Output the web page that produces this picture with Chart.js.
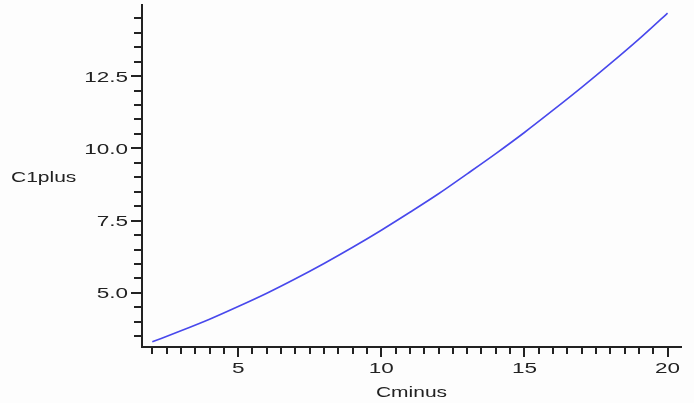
<!DOCTYPE html>
<html>
<head>
<meta charset="utf-8">
<title>C1plus vs Cminus</title>
<script src="https://cdn.jsdelivr.net/npm/chart.js@4/dist/chart.umd.min.js"></script>
<style>
  html, body { margin: 0; padding: 0; background: #fdfdfd; }
  #wrap { width: 694px; height: 403px; }
</style>
</head>
<body>
<div id="wrap"><canvas id="c" width="694" height="403"></canvas></div>
<script>
// Curve samples
const cminus = [2, 3, 4, 5, 6, 7, 8, 9, 10, 11, 12, 13, 14, 15, 16, 17, 18, 19, 20];
const c1plus = [3.31, 3.69, 4.09, 4.53, 4.99, 5.49, 6.02, 6.58, 7.17, 7.79, 8.43, 9.12, 9.82, 10.55, 11.32, 12.11, 12.93, 13.78, 14.68];

// Axis ticks: labelled majors, unlabelled minors every half unit
const xMajorValues = [5, 10, 15, 20];
const xMajorLabels = ['5', '10', '15', '20'];
const yMajorValues = [5, 7.5, 10, 12.5];
const yMajorLabels = ['5.0', '7.5', '10.0', '12.5'];
const minorStep = 0.5;
const xFirstTick = 2, xLastTick = 20;
const yFirstTick = 3.5, yLastTick = 14.5;

const xTitle = 'Cminus';
const yTitle = 'C1plus';

const INK = '#222';
const FONT = '"Liberation Sans", Arial, sans-serif';
const STRETCH = 1.5;   // wide lettering

function stepTicks(first, last) {
  return function (scale) {
    const n = Math.round((last - first) / minorStep);
    const ticks = [];
    for (let i = 0; i <= n; i++) ticks.push({ value: first + i * minorStep });
    scale.ticks = ticks;
  };
}

function majorIndex(values, v) {
  return values.findIndex(m => Math.abs(m - v) < 1e-6);
}

// Draws text stretched horizontally around its anchor point
function wideText(ctx, text, x, y, align) {
  ctx.save();
  ctx.translate(x, y);
  ctx.scale(STRETCH, 1);
  ctx.textAlign = align;
  ctx.textBaseline = 'alphabetic';
  ctx.fillText(text, 0, 0);
  ctx.restore();
}

// Tick marks (long for majors, short for minors), tick labels and axis titles
const axisDecor = {
  id: 'axisDecor',
  afterDraw(chart) {
    const ctx = chart.ctx;
    const xs = chart.scales.x, ys = chart.scales.y;
    const area = chart.chartArea;
    ctx.save();
    ctx.strokeStyle = INK;
    ctx.fillStyle = INK;
    ctx.lineWidth = 2;
    ctx.beginPath();
    xs.ticks.forEach(t => {
      const px = Math.round(xs.getPixelForValue(t.value));
      const len = majorIndex(xMajorValues, t.value) >= 0 ? 10 : 7;
      ctx.moveTo(px, area.bottom);
      ctx.lineTo(px, area.bottom + len);
    });
    ys.ticks.forEach(t => {
      const py = Math.round(ys.getPixelForValue(t.value));
      const len = majorIndex(yMajorValues, t.value) >= 0 ? 11 : 8;
      ctx.moveTo(area.left, py);
      ctx.lineTo(area.left - len, py);
    });
    ctx.stroke();

    ctx.font = '15px ' + FONT;
    xMajorValues.forEach((v, i) => {
      wideText(ctx, xMajorLabels[i], xs.getPixelForValue(v), area.bottom + 26, 'center');
    });
    yMajorValues.forEach((v, i) => {
      wideText(ctx, yMajorLabels[i], area.left - 14, ys.getPixelForValue(v) + 5.5, 'right');
    });

    ctx.font = '14px ' + FONT;
    wideText(ctx, xTitle, (area.left + area.right) / 2, 397, 'center');
    wideText(ctx, yTitle, 11, (area.top + area.bottom) / 2 + 6, 'left');
    ctx.restore();
  }
};

new Chart(document.getElementById('c'), {
  type: 'line',
  data: {
    datasets: [{
      data: cminus.map((x, i) => ({ x: x, y: c1plus[i] })),
      borderColor: 'rgb(72, 72, 236)',
      borderWidth: 1.6,
      pointRadius: 0,
      fill: false,
      cubicInterpolationMode: 'monotone'
    }]
  },
  options: {
    responsive: false,
    animation: false,
    events: [],
    layout: { padding: { top: 5, right: 13, left: 0, bottom: 0 } },
    plugins: {
      legend: { display: false },
      tooltip: { enabled: false },
      title: { display: false }
    },
    scales: {
      x: {
        type: 'linear',
        min: 1.64,
        max: 20.47,
        afterBuildTicks: stepTicks(xFirstTick, xLastTick),
        afterFit(scale) { scale.height = 56; scale.paddingLeft = 0; scale.paddingRight = 0; },
        grid: { display: false, drawTicks: false },
        border: { display: true, color: INK, width: 2 },
        ticks: { display: false }
      },
      y: {
        type: 'linear',
        min: 3.13,
        max: 14.96,
        afterBuildTicks: stepTicks(yFirstTick, yLastTick),
        afterFit(scale) { scale.width = 142; scale.paddingTop = 0; scale.paddingBottom = 0; },
        grid: { display: false, drawTicks: false },
        border: { display: true, color: INK, width: 2 },
        ticks: { display: false }
      }
    }
  },
  plugins: [axisDecor]
});
</script>
</body>
</html>
